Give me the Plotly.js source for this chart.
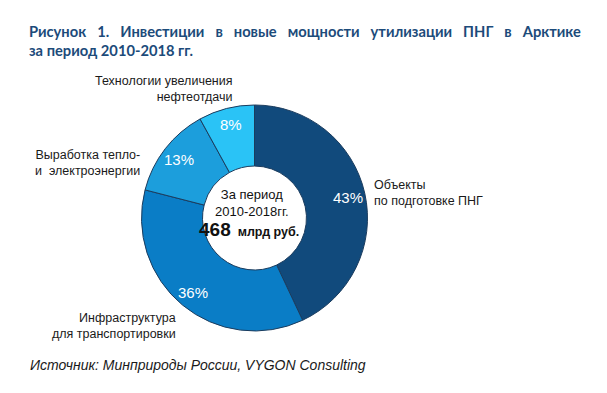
<!DOCTYPE html>
<html>
<head>
<meta charset="utf-8">
<script src="https://cdn.plot.ly/plotly-3.0.1.min.js"></script>
<style>html,body{margin:0;padding:0;background:#fff;}#chart{width:607px;height:393px;}</style>
</head>
<body>
<div id="chart"></div>
<script>
var categories = ["Объекты<br>по подготовке ПНГ", "Инфраструктура<br>для транспортировки", "Выработка тепло-<br>и  электроэнергии", "Технологии увеличения<br>нефтеотдачи"];
var shares = [43, 36, 13, 8];
var sliceColors = ["#114A7C", "#0A7DC6", "#1C9EDC", "#2AC3F6"];
var titleLine1 = "Рисунок 1. Инвестиции в новые мощности утилизации ПНГ в Арктике";
var titleLine2 = "за период 2010-2018 гг.";
var centerLines = ["За период", "2010-2018гг.", "468", "млрд руб."];
var sourceText = "Источник: Минприроды России, VYGON Consulting";

var W = 607, H = 393;
function px(x){ return x / W; }
function py(y){ return 1 - y / H; }

var cx = 254.5, cy = 218, R = 113;

var trace = {
  type: "pie",
  values: shares,
  labels: categories,
  sort: false,
  direction: "clockwise",
  rotation: 0,
  hole: 0.46,
  marker: { colors: sliceColors, line: { color: "#1B3C5E", width: 1 } },
  textinfo: "none",
  hoverinfo: "none",
  showlegend: false,
  domain: { x: [px(cx - R), px(cx + R)], y: [py(cy + R), py(cy - R)] }
};

var lblFont = { family: "Liberation Sans, Arial, sans-serif", size: 12.5, color: "#1a1a1a" };

var annotations = [
  { text: titleLine1.split(" ").join("\u2003") + "<br>" + titleLine2, x: px(27), y: py(19.5), xref: "paper", yref: "paper", xanchor: "left", yanchor: "top", align: "left", showarrow: false,
    font: { family: "Lato, 'Open Sans', sans-serif", size: 14.7, color: "#1C4B7A", weight: "bold" } },
  { text: categories[0], x: px(372), y: py(193), xref: "paper", yref: "paper", xanchor: "left", yanchor: "middle", align: "left", showarrow: false, font: lblFont },
  { text: categories[1], x: px(178), y: py(326), xref: "paper", yref: "paper", xanchor: "right", yanchor: "middle", align: "right", showarrow: false, font: lblFont },
  { text: categories[2], x: px(142), y: py(163), xref: "paper", yref: "paper", xanchor: "right", yanchor: "middle", align: "right", showarrow: false, font: lblFont },
  { text: categories[3], x: px(235), y: py(89), xref: "paper", yref: "paper", xanchor: "right", yanchor: "middle", align: "right", showarrow: false, font: lblFont },
  { text: centerLines[0] + "<br>" + centerLines[1], x: px(252), y: py(203), xref: "paper", yref: "paper", xanchor: "center", yanchor: "middle", align: "center", showarrow: false,
    font: { family: "Liberation Sans, Arial, sans-serif", size: 13, color: "#111111" } },
  { text: "<b><span style='font-size:19px'>" + centerLines[2] + "</span>  " + centerLines[3] + "</b>", x: px(249), y: py(229), xref: "paper", yref: "paper", xanchor: "center", yanchor: "middle", showarrow: false,
    font: { family: "Liberation Sans, Arial, sans-serif", size: 12.5, color: "#111111" } },
  { text: "<i>" + sourceText + "</i>", x: px(28), y: py(365), xref: "paper", yref: "paper", xanchor: "left", yanchor: "middle", showarrow: false,
    font: { family: "Liberation Sans, Arial, sans-serif", size: 14, color: "#1a1a1a" } }
];

// percentage labels placed at each slice's mid-angle, near the outer part of the ring
var total = shares.reduce(function(a, b){ return a + b; }, 0);
var cum = 0;
shares.forEach(function(v){
  var mid = (cum + v / 2) / total * 2 * Math.PI;
  cum += v;
  var r = 0.85 * R;
  annotations.push({
    text: Math.round(v / total * 100) + "%",
    x: px(cx + r * Math.sin(mid)), y: py(cy - r * Math.cos(mid)),
    xref: "paper", yref: "paper", xanchor: "center", yanchor: "middle", showarrow: false,
    font: { family: "Liberation Sans, Arial, sans-serif", size: 15, color: "#ffffff" }
  });
});

var layout = {
  width: W, height: H,
  margin: { l: 0, r: 0, t: 0, b: 0 },
  paper_bgcolor: "#ffffff",
  showlegend: false,
  annotations: annotations
};

Plotly.newPlot("chart", [trace], layout, { displayModeBar: false, staticPlot: true });
</script>
</body>
</html>
